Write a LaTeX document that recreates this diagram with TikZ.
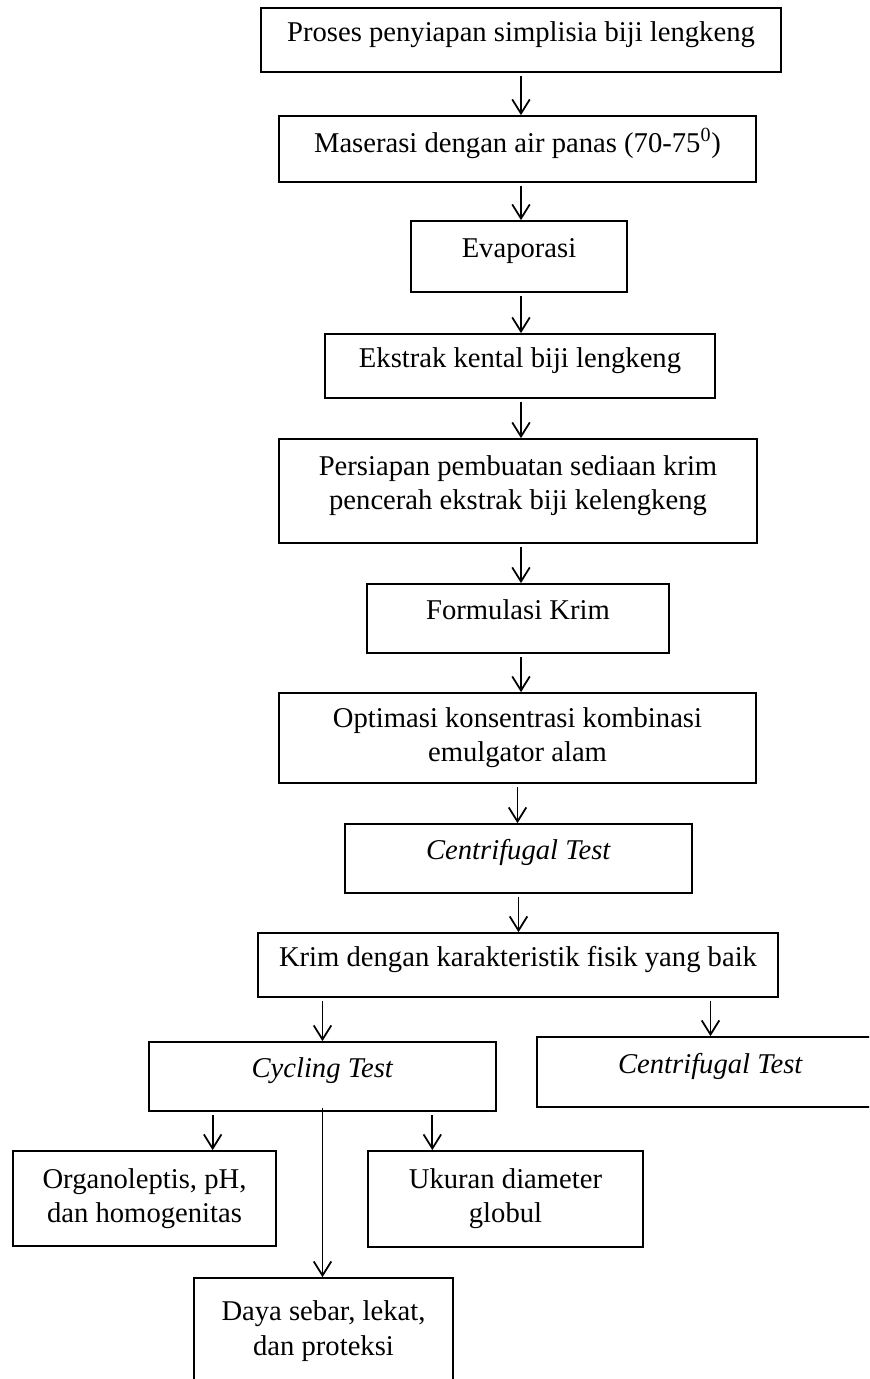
\documentclass[tikz,border=0pt]{standalone}
\usepackage{fontspec}
\setmainfont{Liberation Serif}
\usetikzlibrary{arrows.meta, calc}

\begin{document}
\begin{tikzpicture}[
    x=0.02cm, y=-0.02cm,
    box/.style 2 args={draw, line width=1pt, align=center, inner sep=0pt,
        minimum width=#1, minimum height=#2,
        font=\fontsize{16.3pt}{19.5pt}\selectfont},
    lift/.style={execute at end node={\rule[-10pt]{0pt}{0pt}}},
    arr/.style={line width=1pt, -{Straight Barb[length=8pt,width=10pt]}, shorten <=2pt}
]
    \useasboundingbox (0,0) rectangle (869,1379);
    \clip (0,0) rectangle (869,1379);

    % Main column, top to bottom:
    \node[box={10.4cm}{1.28cm}, lift] (pros) at (521,40) {Proses penyiapan simplisia biji lengkeng};
    \node[box={9.54cm}{1.32cm}, lift] (mas) at (517.5,149) {Maserasi dengan air panas (70-75\textsuperscript{0})};
    \node[box={4.32cm}{1.42cm}, lift] (evap) at (519,256.5) {Evaporasi};
    \node[box={7.8cm}{1.28cm}, lift] (eks) at (520,366) {Ekstrak kental biji lengkeng};
    \node[box={9.56cm}{2.08cm}, lift] (pers) at (518,491) {Persiapan pembuatan sediaan krim\\pencerah ekstrak biji kelengkeng};
    \node[box={6.04cm}{1.38cm}, lift] (form) at (518,618.5) {Formulasi Krim};
    \node[box={9.54cm}{1.8cm}] (opt) at (517.5,738) {Optimasi konsentrasi kombinasi\\emulgator alam};
    \node[box={6.94cm}{1.38cm}, lift] (cent) at (518.5,858.5) {\textit{Centrifugal Test}};
    \node[box={10.4cm}{1.28cm}, lift] (krim) at (518,965) {Krim dengan karakteristik fisik yang baik};

    % Two tests, then what the cycling test checks:
    \node[box={6.94cm}{1.38cm}, lift] (cyc) at (322.5,1076.5) {\textit{Cycling Test}};
    \node[box={6.94cm}{1.4cm}, lift] (centb) at (710.5,1072) {\textit{Centrifugal Test}};
    \node[box={5.26cm}{1.9cm}] (org) at (144.5,1198.5) {Organoleptis, pH,\\dan homogenitas};
    \node[box={5.5cm}{1.92cm}] (uk) at (505.5,1199) {Ukuran diameter\\globul};
    \node[box={5.18cm}{2.12cm}] (daya) at (323.5,1331) {Daya sebar, lekat,\\dan proteksi};

    \coordinate (cycL) at ($(cyc.south west)!0.185!(cyc.south east)$);
    \coordinate (cycR) at ($(cyc.south west)!0.815!(cyc.south east)$);

    \path[arr]
        (pros.south) edge (pros.south |- mas.north)
        (pros.south |- mas.south) edge (pros.south |- evap.north)
        (pros.south |- evap.south) edge (pros.south |- eks.north)
        (pros.south |- eks.south) edge (pros.south |- pers.north)
        (pros.south |- pers.south) edge (pros.south |- form.north)
        (pros.south |- form.south) edge (pros.south |- opt.north)
        (opt.south) edge (opt.south |- cent.north)
        (cent.south) edge (cent.south |- krim.north)
        (krim.south -| cyc.north) edge (cyc.north)
        (krim.south -| centb.north) edge (centb.north)
        (cycL) edge (cycL |- org.north)
        (cycR) edge (cycR |- uk.north)
        (cyc.south) edge[shorten <=-2pt] (cyc.south |- daya.north);
\end{tikzpicture}
\end{document}
